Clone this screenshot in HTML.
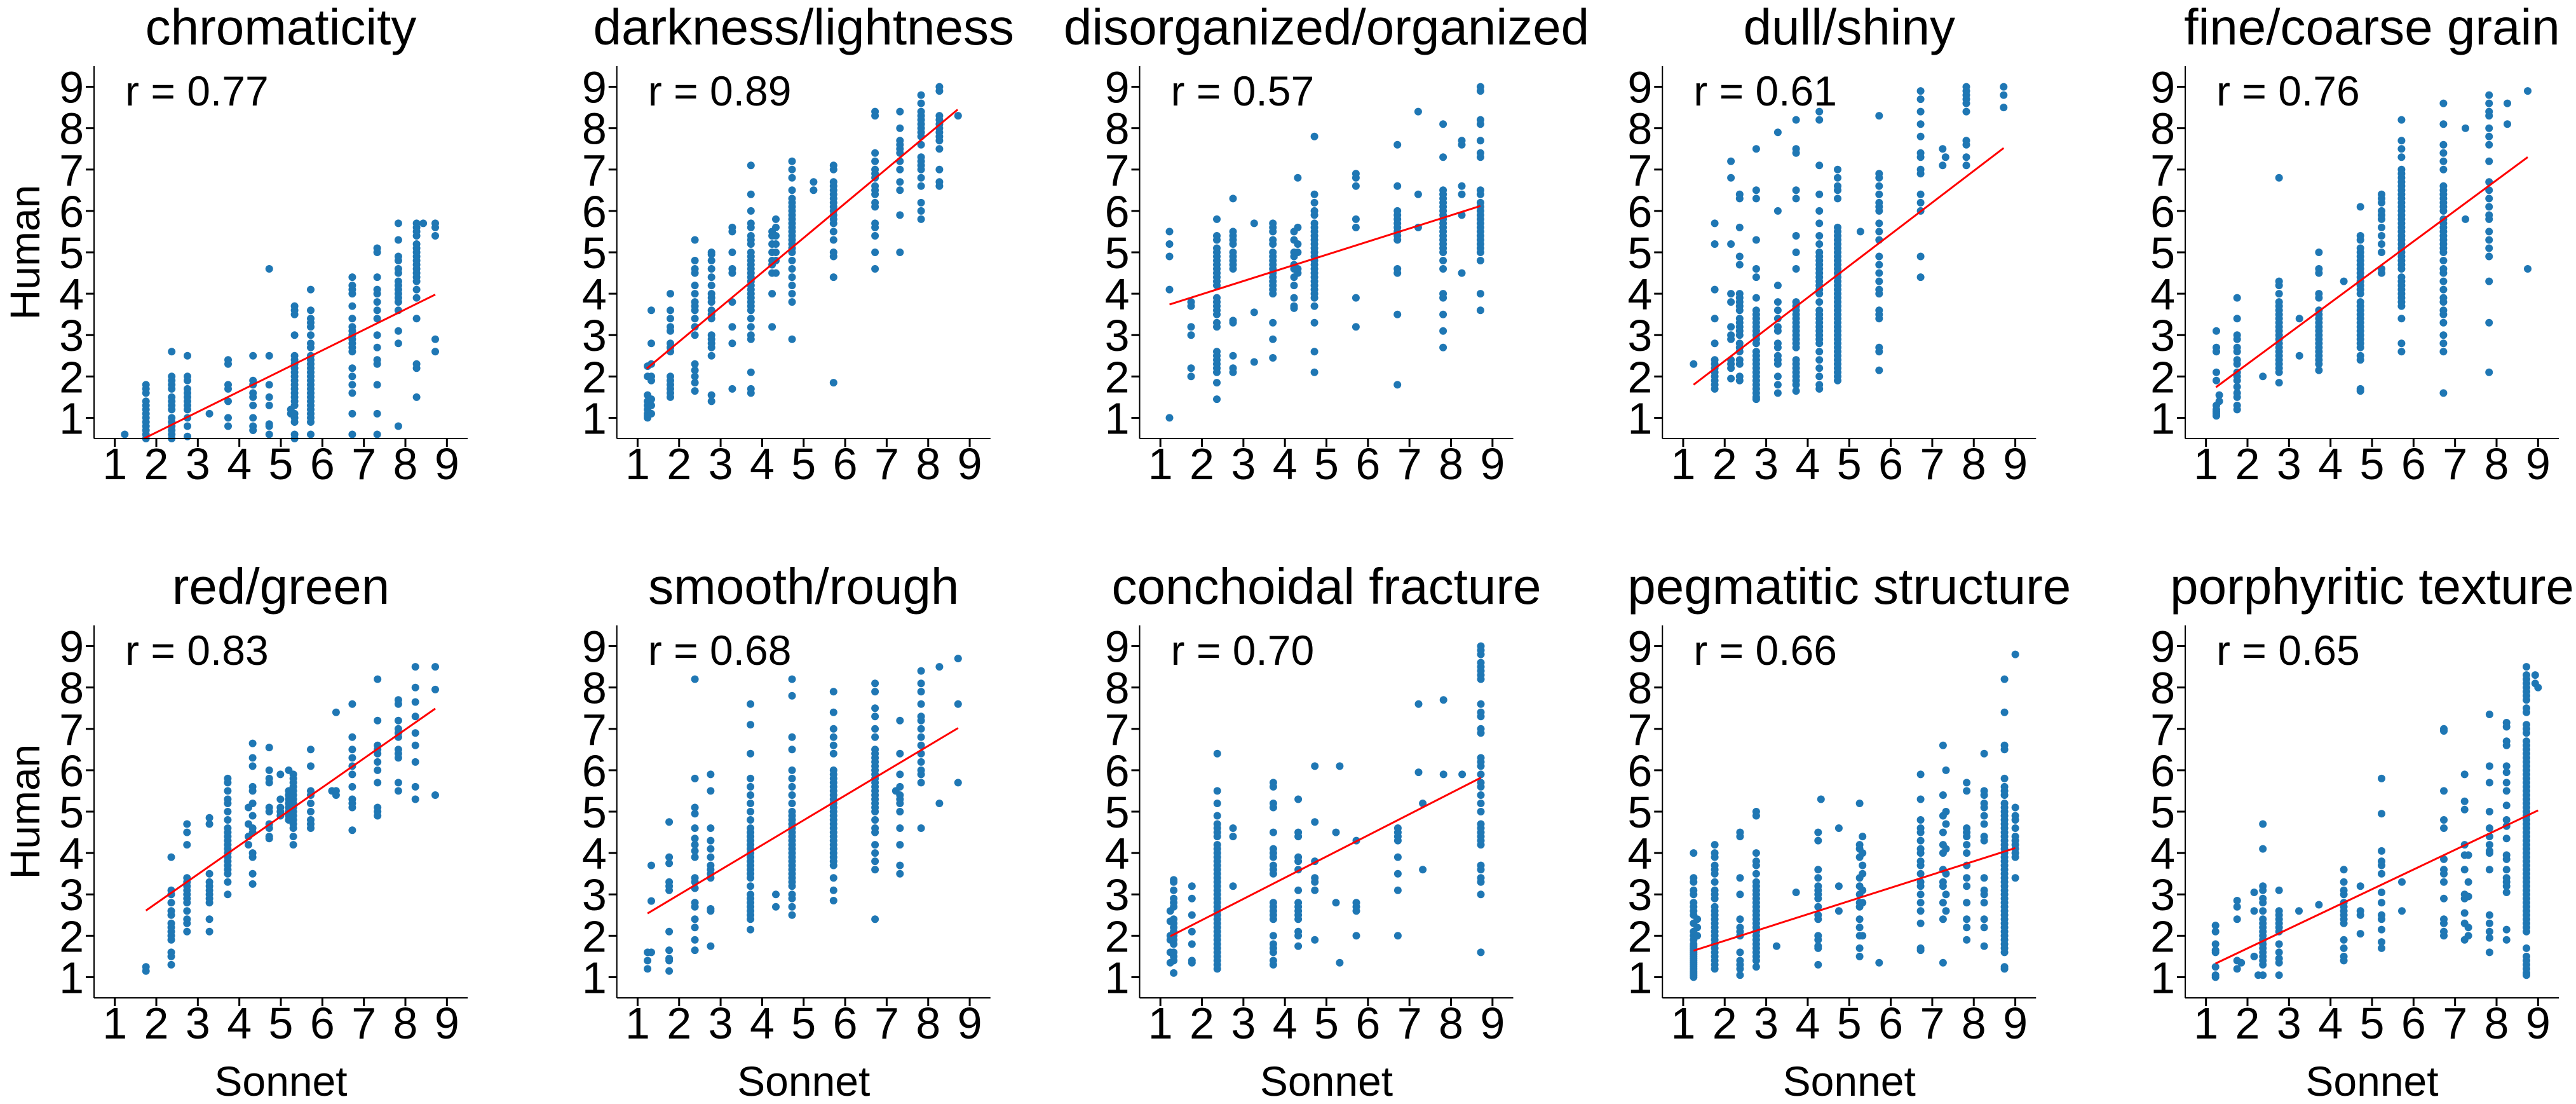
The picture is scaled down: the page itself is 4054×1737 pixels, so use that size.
<!DOCTYPE html>
<html><head><meta charset="utf-8">
<style>
html,body{margin:0;padding:0;background:#fff;}
svg{display:block;}
text{font-family:"Liberation Sans",Arial,sans-serif;fill:#000;}
</style></head>
<body>
<svg id="chart" width="4054" height="1737" viewBox="0 0 4054 1737" xmlns="http://www.w3.org/2000/svg"></svg>
<script>
const titles = ["chromaticity","darkness/lightness","disorganized/organized","dull/shiny","fine/coarse grain","red/green","smooth/rough","conchoidal fracture","pegmatitic structure","porphyritic texture"];
const rValues = ["0.77","0.89","0.57","0.61","0.76","0.83","0.68","0.70","0.66","0.65"];
const fitX0 = [1.7,1.22,1.22,1.25,1.24,1.75,1.24,1.24,1.25,1.23];
const fitY0 = [0.5,2.19,3.74,1.8,1.74,2.61,2.54,1.99,1.64,1.33];
const fitX1 = [8.72,8.71,8.71,8.72,8.75,8.72,8.72,8.72,9.0,9.0];
const fitY1 = [3.98,8.45,6.12,7.52,7.3,7.49,7.02,5.82,4.12,5.03];
const xTicks = [1,2,3,4,5,6,7,8,9];
const yTicks = [1,2,3,4,5,6,7,8,9];

const colX0 = [1.24,1.75,2.37,2.75,3.28,3.73,4.33,4.72,5.24,5.33,5.72,6.72,7.32,7.83,8.27,8.43,8.72];
const colY0 = [[0.6],[0.5,0.6,0.7,0.8,0.9,1.0,1.1,1.2,1.3,1.4,1.6,1.7,1.8],[0.5,0.6,0.7,0.8,0.9,1.0,1.2,1.3,1.4,1.5,1.7,1.8,1.9,2.0,2.6],[0.55,0.8,1.0,1.2,1.3,1.4,1.5,1.6,1.7,1.9,2.0,2.5],[1.1],[0.8,1.0,1.4,1.7,1.8,2.3,2.4],[0.7,0.8,1.0,1.3,1.5,1.6,1.8,1.9,2.5],[0.6,0.8,0.85,1.3,1.5,1.8,2.5,4.6],[1.1,1.2],[0.5,0.6,0.9,1.0,1.1,1.3,1.4,1.5,1.6,1.7,1.8,1.9,2.0,2.1,2.2,2.3,2.4,2.5,3.0,3.5,3.6,3.7],[0.6,0.9,1.0,1.1,1.2,1.3,1.4,1.5,1.6,1.7,1.8,1.9,2.0,2.1,2.2,2.3,2.4,2.5,2.7,2.8,3.0,3.2,3.3,3.4,3.6,4.1],[0.6,1.1,1.6,1.8,2.0,2.2,2.6,2.7,2.8,2.9,3.0,3.1,3.2,3.4,3.7,4.0,4.1,4.2,4.4],[0.6,1.1,1.8,2.3,2.4,2.7,3.0,3.4,3.6,3.8,4.0,4.1,4.4,5.0,5.1],[0.8,2.8,3.1,3.6,3.8,3.9,4.0,4.1,4.2,4.3,4.5,4.6,4.8,4.9,5.3,5.7],[1.5,2.2,2.3,3.4,3.9,4.1,4.3,4.4,4.5,4.6,4.7,4.8,4.9,5.0,5.1,5.2,5.4,5.5,5.6,5.7],[5.7],[2.6,2.9,5.4,5.6,5.7]];

const colX1 = [1.24,1.33,1.79,2.38,2.78,3.28,3.73,4.24,4.33,4.72,5.24,5.72,6.72,7.32,7.83,8.27,8.72];
const colY1 = [[1.0,1.05,1.1,1.2,1.3,1.4,1.55,2.0,2.25],[1.1,1.3,1.45,1.9,2.0,2.3,2.8,3.6],[1.5,1.6,1.7,1.8,1.9,2.0,2.6,2.7,2.8,3.1,3.2,3.4,3.6,4.0],[1.65,1.85,2.0,2.15,2.3,3.0,3.2,3.4,3.6,3.7,3.8,4.0,4.2,4.5,4.6,4.8,5.3],[1.4,1.55,2.5,2.7,2.8,2.9,3.0,3.4,3.5,3.6,3.8,3.9,4.0,4.2,4.4,4.6,4.8,4.95,5.0],[1.7,2.8,3.2,3.8,4.5,4.6,5.0,5.5,5.6],[1.6,1.7,2.1,2.9,3.0,3.2,3.4,3.6,3.7,3.8,3.9,4.0,4.1,4.2,4.3,4.4,4.5,4.6,4.7,4.8,4.9,5.0,5.2,5.3,5.4,5.6,5.7,6.0,6.4,7.1],[3.2,4.0,4.5,4.7,4.8,5.0,5.2,5.4,5.5],[4.5,4.8,5.0,5.2,5.4,5.6,5.8],[2.9,3.8,4.0,4.2,4.4,4.6,4.8,5.0,5.1,5.2,5.3,5.4,5.5,5.6,5.7,5.8,5.9,6.0,6.1,6.2,6.3,6.5,6.8,7.0,7.2],[6.5,6.7],[1.85,4.4,4.9,5.0,5.3,5.5,5.7,5.8,5.9,6.0,6.1,6.2,6.3,6.4,6.5,6.6,6.7,7.0,7.1],[4.6,5.0,5.4,5.6,5.7,6.1,6.2,6.4,6.5,6.6,6.8,6.9,7.0,7.2,7.4,8.3,8.4],[5.0,5.9,6.5,6.7,7.0,7.2,7.4,7.5,7.6,7.7,8.0,8.4],[5.8,6.0,6.2,6.6,6.8,7.0,7.1,7.2,7.3,7.6,7.8,7.9,8.0,8.1,8.2,8.3,8.4,8.6,8.8],[6.6,6.7,7.0,7.5,7.7,7.8,7.9,8.0,8.1,8.2,8.3,8.9,9.0],[8.3]];

const colX2 = [1.22,1.74,2.36,2.75,3.26,3.71,4.22,4.31,4.71,5.71,6.71,7.21,7.81,8.26,8.71];
const colY2 = [[1.0,4.1,4.9,5.2,5.5],[2.0,2.2,3.0,3.2,3.7,3.8],[1.45,1.85,2.1,2.2,2.3,2.4,2.5,2.6,3.2,3.3,3.5,3.6,3.7,3.8,3.9,4.2,4.3,4.4,4.5,4.6,4.7,4.8,4.9,5.0,5.1,5.3,5.4,5.8],[2.1,2.2,2.5,3.3,3.35,4.6,4.7,4.8,4.9,5.0,5.2,5.3,5.4,5.5,6.3],[2.35,3.55,5.7],[2.45,2.9,3.3,4.0,4.1,4.2,4.3,4.4,4.5,4.6,4.7,4.8,4.9,5.0,5.2,5.3,5.5,5.6,5.7],[3.65,3.7,3.9,4.2,4.4,4.6,4.7,4.9,5.0,5.3,5.5],[4.5,4.6,5.0,5.2,5.6,6.8],[2.1,2.6,3.3,3.7,3.9,4.0,4.1,4.2,4.3,4.4,4.5,4.6,4.7,4.8,4.9,5.0,5.1,5.2,5.3,5.4,5.5,5.6,5.7,5.9,6.0,6.2,6.4,7.8],[3.2,3.9,5.6,5.8,6.6,6.8,6.9],[1.8,3.5,4.5,4.6,5.3,5.4,5.5,5.6,5.7,5.8,5.9,6.0,6.6,7.6],[5.6,6.4,8.4],[2.7,3.1,3.5,3.9,4.0,4.6,4.8,5.0,5.1,5.2,5.3,5.4,5.5,5.6,5.7,5.8,5.9,6.0,6.1,6.2,6.3,6.4,6.5,7.3,8.1],[4.5,5.9,6.4,6.6,7.6,7.7],[3.6,4.0,4.8,5.0,5.1,5.2,5.3,5.4,5.5,5.6,5.7,5.8,5.9,6.0,6.1,6.2,6.4,6.5,7.3,7.4,7.7,8.1,8.2,8.9,9.0]];

const colX3 = [1.25,1.76,2.15,2.36,2.76,3.28,3.72,4.28,4.72,5.27,5.72,6.72,7.25,7.32,7.82,8.72];
const colY3 = [[2.3],[1.7,1.8,1.9,2.0,2.1,2.2,2.3,2.4,2.8,3.4,4.1,5.2,5.7],[1.95,2.2,2.3,2.4,2.9,3.0,3.2,3.8,4.0,5.2,6.8,7.2],[1.9,2.0,2.3,2.4,2.6,2.7,2.8,3.0,3.1,3.2,3.3,3.4,3.6,3.7,3.8,3.9,4.0,4.7,4.9,5.6,6.3,6.4],[1.45,1.5,1.6,1.7,1.8,1.9,2.0,2.1,2.2,2.3,2.4,2.5,2.6,2.8,2.9,3.0,3.1,3.2,3.3,3.4,3.5,3.6,3.9,4.4,4.6,5.3,6.3,6.5,7.5],[1.6,1.8,2.0,2.3,2.4,2.5,2.7,2.8,3.1,3.2,3.4,3.6,3.8,4.2,6.0,7.9],[1.65,1.8,1.9,2.0,2.1,2.2,2.3,2.4,2.7,2.8,2.9,3.0,3.1,3.2,3.3,3.4,3.5,3.6,3.7,3.8,4.6,5.0,5.4,6.3,6.5,7.4,7.5,8.2],[1.7,1.8,2.0,2.2,2.4,2.6,2.8,2.9,3.0,3.1,3.2,3.3,3.4,3.5,3.6,3.8,4.0,4.1,4.2,4.3,4.4,4.5,4.6,4.7,4.8,4.9,5.0,5.2,5.4,5.7,6.0,6.4,7.1,8.2,8.4],[1.9,2.0,2.1,2.2,2.3,2.4,2.5,2.6,2.7,2.8,2.9,3.0,3.1,3.2,3.3,3.4,3.5,3.6,3.7,3.8,3.9,4.0,4.1,4.2,4.3,4.4,4.5,4.6,4.7,4.8,4.9,5.0,5.1,5.2,5.3,5.4,5.5,5.6,6.3,6.5,6.6,6.8,7.0],[5.5],[2.15,2.6,2.7,3.4,3.5,3.6,4.0,4.1,4.3,4.5,4.7,4.9,5.3,5.5,5.7,6.0,6.1,6.2,6.4,6.6,6.8,6.9,8.3],[4.4,4.9,6.0,6.2,6.4,6.9,7.0,7.3,7.4,7.8,8.1,8.4,8.7,8.9],[7.1,7.5],[7.3],[7.1,7.3,7.6,7.7,8.4,8.6,8.7,8.8,8.9,9.0],[8.5,8.8,9.0]];

const colX4 = [1.25,1.32,1.75,2.37,2.76,3.25,3.72,4.32,4.72,5.23,5.71,6.72,7.25,7.82,8.26,8.75];
const colY4 = [[1.05,1.1,1.15,1.2,1.3,1.9,2.1,2.6,2.7,3.1],[1.4,1.55],[1.2,1.3,1.5,1.6,1.75,1.9,2.0,2.1,2.3,2.4,2.6,2.7,2.9,3.0,3.4,3.9],[2.0],[1.85,2.1,2.2,2.3,2.4,2.5,2.6,2.7,2.8,2.9,3.0,3.1,3.2,3.3,3.4,3.5,3.6,3.7,3.8,4.0,4.2,4.3,6.8],[2.5,3.4],[2.15,2.3,2.4,2.5,2.6,2.7,2.8,2.9,3.0,3.1,3.2,3.3,3.4,3.5,3.6,3.9,4.0,4.5,4.6,5.0],[4.3],[1.65,1.7,2.4,2.5,2.7,2.8,2.9,3.0,3.1,3.2,3.3,3.4,3.5,3.6,3.7,3.8,4.0,4.1,4.2,4.3,4.4,4.5,4.6,4.7,4.8,4.9,5.0,5.1,5.3,5.4,6.1],[4.5,4.6,5.0,5.2,5.4,5.6,5.8,5.9,6.0,6.2,6.3,6.4],[2.6,2.8,3.4,3.7,3.8,3.9,4.0,4.1,4.2,4.3,4.4,4.6,4.7,4.8,4.9,5.0,5.1,5.2,5.3,5.4,5.5,5.6,5.7,5.8,5.9,6.0,6.1,6.2,6.3,6.4,6.5,6.6,6.7,6.8,6.9,7.0,7.3,7.5,7.7,8.2],[1.6,2.6,2.8,3.0,3.3,3.5,3.6,3.8,3.9,4.1,4.3,4.5,4.6,4.8,5.0,5.1,5.2,5.3,5.4,5.5,5.6,5.7,5.8,6.0,6.1,6.2,6.3,6.4,6.5,6.6,7.0,7.2,7.4,7.6,8.1,8.6],[5.8,8.0],[2.1,3.3,4.3,4.9,5.1,5.3,5.5,5.8,5.9,6.1,6.3,6.5,6.7,7.2,7.6,7.8,8.0,8.3,8.4,8.6,8.8],[8.1,8.6],[4.6,8.9]];

const colX5 = [1.75,2.36,2.74,3.28,3.72,4.22,4.32,4.72,4.99,5.19,5.3,5.72,6.23,6.33,6.72,7.33,7.83,8.24,8.72];
const colY5 = [[1.15,1.25],[1.3,1.5,1.6,1.9,2.0,2.1,2.2,2.3,2.5,2.6,2.8,3.0,3.1,3.9],[2.1,2.3,2.4,2.6,2.8,2.9,3.0,3.1,3.2,3.3,3.4,4.2,4.5,4.7],[2.1,2.4,2.8,2.9,3.0,3.1,3.2,3.3,3.5,4.7,4.85],[3.0,3.3,3.5,3.6,3.7,3.8,3.9,4.0,4.1,4.2,4.3,4.4,4.5,4.6,4.8,5.0,5.2,5.3,5.5,5.7,5.8],[4.2,4.4,4.7,5.1],[3.25,3.5,3.9,4.0,4.5,4.6,4.9,5.2,5.5,5.6,6.1,6.3,6.65],[4.35,4.4,4.6,4.7,5.0,5.1,5.7,5.8,6.0,6.55],[4.9,5.0,5.1,5.3,5.9],[4.8,4.9,5.0,5.1,5.2,5.3,5.4,5.5,6.0],[4.2,4.4,4.6,4.7,4.8,4.9,5.0,5.1,5.2,5.3,5.4,5.5,5.6,5.7,5.8,5.9],[4.6,4.7,4.8,5.0,5.2,5.4,5.5,6.1,6.5],[5.5],[5.4,5.5,7.4],[4.55,5.1,5.2,5.3,5.6,5.9,6.1,6.3,6.5,6.8,7.6],[4.9,5.0,5.1,5.7,6.0,6.2,6.4,6.5,6.6,7.2,8.2],[5.5,5.7,6.3,6.4,6.5,6.8,6.9,7.0,7.2,7.6,7.7],[5.3,5.6,6.2,6.6,6.9,7.3,7.65,8.0,8.5],[5.4,7.95,8.5]];

const colX6 = [1.24,1.33,1.76,2.38,2.76,3.72,4.33,4.72,5.72,6.72,7.22,7.32,7.83,8.27,8.72];
const colY6 = [[1.2,1.4,1.6],[1.6,2.84,3.7],[1.15,1.4,1.45,1.65,2.1,3.1,3.2,3.3,3.75,3.9,4.75],[1.65,1.9,2.2,2.4,2.7,2.8,3.15,3.3,3.4,3.9,4.05,4.2,4.35,4.6,4.95,5.1,5.8,8.2],[1.75,2.6,2.65,3.4,3.5,3.6,3.7,3.9,4.1,4.3,4.6,5.5,5.9],[2.15,2.4,2.5,2.6,2.7,2.8,2.9,3.0,3.2,3.4,3.5,3.6,3.7,3.8,3.9,4.0,4.1,4.2,4.3,4.4,4.5,4.6,4.8,5.0,5.2,5.4,5.6,5.8,6.4,7.1,7.6],[2.7,3.0],[2.5,2.7,2.9,3.0,3.2,3.3,3.4,3.5,3.6,3.7,3.8,3.9,4.0,4.1,4.2,4.3,4.4,4.5,4.6,4.7,4.8,4.9,5.0,5.2,5.4,5.6,5.8,6.0,6.5,6.8,7.8,8.2],[2.85,3.1,3.4,3.7,3.8,3.9,4.0,4.1,4.2,4.3,4.4,4.5,4.6,4.7,4.8,4.9,5.0,5.1,5.2,5.3,5.4,5.5,5.6,5.7,5.8,5.9,6.0,6.4,6.6,6.8,7.0,7.4,7.9],[2.4,3.6,3.8,4.0,4.2,4.5,4.6,4.8,5.0,5.1,5.2,5.3,5.4,5.5,5.6,5.7,5.8,5.9,6.0,6.1,6.2,6.3,6.4,6.5,6.8,7.0,7.3,7.5,7.9,8.1],[5.5],[3.5,3.7,4.2,4.6,5.0,5.2,5.3,5.4,5.6,5.9,6.4,7.2],[4.6,5.7,5.9,6.0,6.2,6.4,6.6,6.8,7.0,7.2,7.3,7.6,7.9,8.1,8.4],[5.2,8.5],[5.7,7.6,8.7]];

const colX7 = [1.24,1.32,1.76,2.37,2.75,3.72,4.32,4.72,5.23,5.32,5.72,6.72,7.22,7.32,7.82,8.27,8.72];
const colY7 = [[1.35,1.6,1.9,2.0,2.35,2.6],[1.1,1.4,1.5,1.6,1.8,1.9,2.0,2.1,2.2,2.3,2.4,2.7,2.8,2.9,3.1,3.3,3.35],[1.35,1.4,1.8,2.1,2.5,2.9,3.2],[1.2,1.3,1.4,1.5,1.6,1.7,1.8,1.9,2.0,2.1,2.2,2.3,2.4,2.5,2.6,2.7,2.8,2.9,3.0,3.1,3.2,3.3,3.4,3.5,3.6,3.7,3.8,3.9,4.0,4.1,4.2,4.4,4.5,4.6,4.7,4.9,5.2,5.5,6.4],[3.2,4.4,4.6],[1.3,1.4,1.6,1.7,1.8,2.0,2.4,2.5,2.6,2.7,2.8,3.5,3.6,3.7,3.9,4.0,4.1,4.5,5.1,5.2,5.6,5.7],[1.75,2.0,2.1,2.4,2.5,2.6,2.7,2.8,3.1,3.6,3.8,3.9,4.4,4.5,5.3],[1.9,3.1,3.3,3.4,3.8,4.75,6.1],[2.8,4.5],[1.35,6.1],[2.0,2.6,2.7,2.8,4.3],[2.0,3.1,3.5,3.9,4.3,4.4,4.5,4.6],[5.95,7.6],[3.6,5.2],[5.9,7.7],[5.9],[1.6,3.0,3.3,3.4,3.6,3.7,4.2,4.3,4.4,4.5,4.6,4.7,5.0,5.2,5.4,5.6,5.7,5.9,6.1,6.2,6.3,6.9,7.0,7.3,7.4,7.6,8.2,8.3,8.4,8.5,8.6,8.8,8.9,9.0]];

const colX8 = [1.25,1.34,1.76,2.37,2.76,3.25,3.72,4.25,4.32,4.75,5.25,5.32,5.72,6.72,7.26,7.33,7.83,8.25,8.74,9.0];
const colY8 = [[1.0,1.05,1.1,1.15,1.2,1.25,1.3,1.35,1.4,1.45,1.5,1.55,1.6,1.65,1.7,1.75,1.8,1.9,2.0,2.1,2.3,2.5,2.6,2.7,2.8,3.0,3.1,3.3,3.4,4.0],[2.0,2.2,2.4],[1.2,1.3,1.4,1.5,1.6,1.7,1.8,1.9,2.0,2.1,2.2,2.3,2.4,2.5,2.6,2.7,2.9,3.0,3.1,3.3,3.5,3.6,3.7,3.9,4.0,4.2],[1.05,1.2,1.3,1.4,1.6,2.0,2.1,2.2,2.4,3.0,3.4,4.4,4.5],[1.25,1.4,1.5,1.6,1.7,1.8,1.9,2.0,2.1,2.2,2.3,2.4,2.5,2.6,2.7,2.8,2.9,3.0,3.1,3.2,3.3,3.5,3.7,3.8,4.0,4.9,5.0],[1.75],[3.05],[1.3,1.7,1.75,1.9,2.0,2.4,2.5,2.7,2.9,3.0,3.1,3.2,3.4,3.6,4.3,4.5],[5.3],[2.6,3.2,4.6],[1.5,1.7,2.0,2.2,2.4,2.7,2.8,3.0,3.2,3.4,3.9,4.1,4.2,5.2],[2.0,2.8,3.1,3.5,3.7,4.0,4.4],[1.35],[1.65,1.7,2.3,2.6,2.8,3.0,3.2,3.3,3.5,3.7,3.8,4.0,4.1,4.3,4.5,4.6,4.8,5.3,5.9],[1.35,2.4,2.8,3.2,3.3,3.6,4.0,4.2,4.5,4.9,5.4,6.6],[2.6,3.0,3.5,4.1,4.7,5.0,6.0],[1.9,2.2,2.4,2.8,3.2,3.4,3.7,4.0,4.2,4.4,4.5,4.6,5.5,5.7],[1.75,2.2,2.4,2.8,3.0,3.1,3.4,4.3,4.4,4.7,4.9,5.1,5.2,5.4,5.5,6.4],[1.2,1.25,1.6,1.7,1.8,1.9,2.0,2.1,2.2,2.3,2.4,2.5,2.6,2.7,2.8,2.9,3.0,3.1,3.2,3.3,3.4,3.5,3.6,3.7,3.8,3.9,4.0,4.1,4.2,4.3,4.4,4.5,4.6,4.7,4.8,4.9,5.0,5.1,5.2,5.4,5.5,5.6,5.8,6.5,6.6,7.4,8.2],[3.4,3.9,4.0,4.1,4.2,4.3,4.4,4.6,4.8,4.9,5.1,8.8]];

const colX9 = [1.23,1.75,1.85,2.16,2.26,2.37,2.76,3.24,3.72,4.32,4.72,5.23,5.72,6.73,7.23,7.32,7.83,8.24,8.72,8.93,9.0];
const colY9 = [[1.0,1.05,1.25,1.6,1.65,1.8,2.1,2.25],[1.2,1.4,2.4,2.7,2.85],[1.35],[1.5,2.6,3.05],[1.05],[1.05,1.3,1.4,1.5,1.6,1.7,1.8,1.9,2.0,2.1,2.2,2.3,2.4,2.6,2.8,2.9,3.1,3.2,4.1,4.7],[1.05,1.35,1.45,1.6,1.8,2.1,2.2,2.3,2.4,2.5,2.6,3.1],[2.6],[2.75],[1.4,1.5,1.7,1.9,2.3,2.4,2.5,2.6,2.7,2.8,3.0,3.1,3.3,3.6],[2.05,2.5,2.6,3.2],[1.7,1.85,2.15,2.4,2.5,2.8,3.05,3.5,3.7,3.8,4.05,4.95,5.8],[2.6,3.3],[2.0,2.1,2.3,2.4,2.9,3.3,3.5,3.6,3.85,4.6,4.8,5.5,6.95,7.0],[1.9,2.3,2.55,2.9,3.0,3.6,3.95,4.2,5.05,5.25,5.9],[2.0,2.2,2.95,3.3,3.95],[1.6,1.95,2.1,2.3,2.5,3.6,4.0,4.05,4.2,4.4,4.6,5.0,5.7,6.1,7.35],[1.9,2.15,3.05,3.2,3.3,3.4,3.6,3.85,3.95,4.35,4.65,4.8,5.15,5.5,5.7,5.95,6.1,6.6,6.7,7.05,7.15],[1.05,1.1,1.2,1.3,1.4,1.5,1.7,2.1,2.2,2.3,2.4,2.5,2.6,2.7,2.8,2.9,3.0,3.1,3.2,3.3,3.4,3.5,3.6,3.7,3.8,3.9,4.0,4.1,4.2,4.3,4.4,4.5,4.6,4.7,4.8,4.9,5.0,5.1,5.2,5.3,5.4,5.5,5.6,5.7,5.8,5.9,6.0,6.1,6.2,6.3,6.4,6.5,6.6,6.7,6.9,7.0,7.1,7.4,7.5,7.7,7.8,7.9,8.0,8.1,8.2,8.3,8.5],[8.1,8.3],[8.0]];

const panelX = [colX0,colX1,colX2,colX3,colX4,colX5,colX6,colX7,colX8,colX9];
const panelY = [colY0,colY1,colY2,colY3,colY4,colY5,colY6,colY7,colY8,colY9];

const NS = "http://www.w3.org/2000/svg";
const svg = document.getElementById('chart');
const W = 588, H = 586, DMIN = 0.5, DMAX = 9.5;
function mk(tag, attrs, parent){ const e = document.createElementNS(NS, tag); for (const k in attrs) e.setAttribute(k, attrs[k]); parent.appendChild(e); return e; }

for (let p = 0; p < 10; p++) {
  const c = p % 5, r = Math.floor(p / 5);
  const px = 148 + c * 822.75, top = 104 + r * 880, bot = top + H;
  const sx = v => px + (v - DMIN) / (DMAX - DMIN) * W;
  const sy = v => bot - (v - DMIN) / (DMAX - DMIN) * H;
  const g = mk('g', {}, svg);
  
  

  const t = mk('text', {x: px + W/2, y: top - 34, 'font-size': 80, 'text-anchor': 'middle'}, g);
  t.textContent = titles[p];
  
  

  const pts = mk('g', {fill: '#1f77b4'}, g);
  
  
  const xs = panelX[p], ys = panelY[p];
  for (let i = 0; i < xs.length; i++) {
    for (const yv of ys[i]) {
      const dot = mk('circle', {cx: sx(xs[i]).toFixed(1), cy: sy(yv).toFixed(1), r: 6}, pts);
      
      
    }
  }
  const fl = mk('line', {x1: sx(fitX0[p]), y1: sy(fitY0[p]), x2: sx(fitX1[p]), y2: sy(fitY1[p]), stroke: '#ff0000', 'stroke-width': 3}, g);
  
  

  const ya = mk('line', {x1: px, y1: top, x2: px, y2: bot, stroke: '#000', 'stroke-width': 2}, g);
  
  
  const xa = mk('line', {x1: px, y1: bot, x2: px + W, y2: bot, stroke: '#000', 'stroke-width': 2}, g);
  
  

  for (const tv of xTicks) {
    const x = sx(tv);
    const tk = mk('line', {x1: x, y1: bot, x2: x, y2: bot + 13, stroke: '#000', 'stroke-width': 3}, g);
    
    
    const tl = mk('text', {x: x, y: bot + 64, 'font-size': 70, 'text-anchor': 'middle'}, g);
    tl.textContent = tv;
    
    
  }
  for (const tv of yTicks) {
    const y = sy(tv);
    const tk = mk('line', {x1: px - 13, y1: y, x2: px, y2: y, stroke: '#000', 'stroke-width': 3}, g);
    
    
    const tl = mk('text', {x: px - 16, y: y + 25, 'font-size': 70, 'text-anchor': 'end'}, g);
    tl.textContent = tv;
    
    
  }
  const rt = mk('text', {x: px + 49, y: top + 62, 'font-size': 66}, g);
  rt.textContent = 'r = ' + rValues[p];
  
  

  if (c === 0) {
    const yl = mk('text', {x: 0, y: 0, 'font-size': 66, 'text-anchor': 'middle', transform: 'translate(62,' + (top + H/2) + ') rotate(-90)'}, g);
    yl.textContent = 'Human';
    
    
  }
  if (r === 1) {
    const xl = mk('text', {x: px + W/2, y: 1724, 'font-size': 66, 'text-anchor': 'middle'}, g);
    xl.textContent = 'Sonnet';
    
    
  }
}
</script>
</body></html>
